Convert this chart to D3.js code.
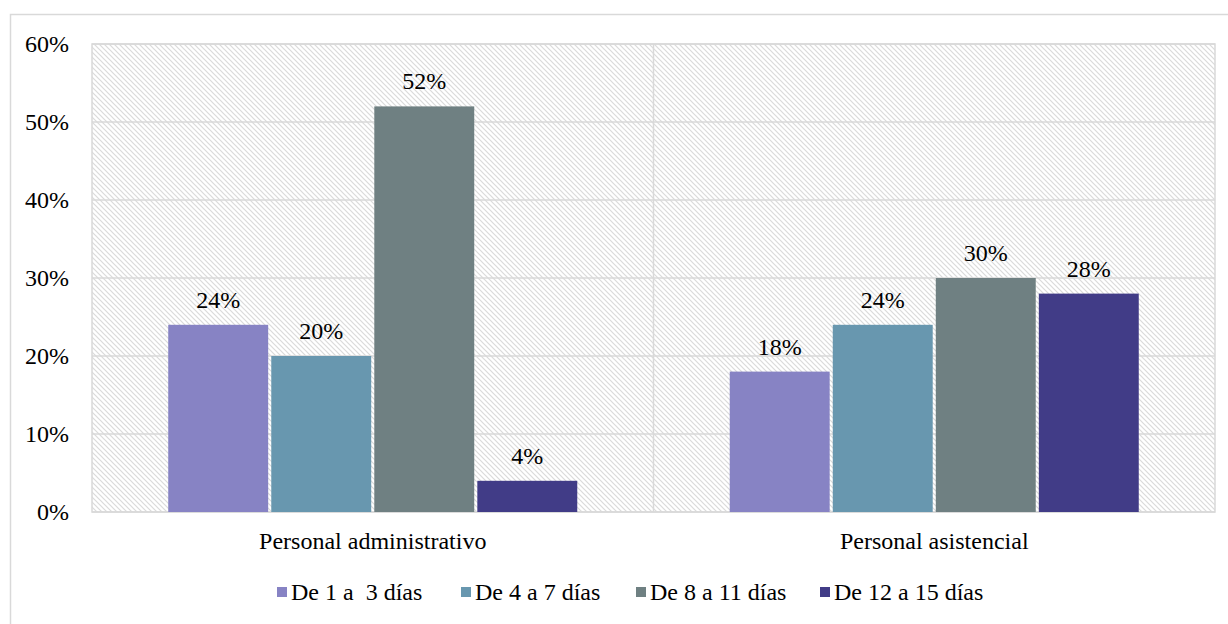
<!DOCTYPE html>
<html>
<head>
<meta charset="utf-8">
<script src="https://cdn.jsdelivr.net/npm/d3@7"></script>
<style>
  body { margin: 0; background: #fff; }
  svg text { font-family: "Liberation Serif", "Times New Roman", serif; fill: #000; white-space: pre; }
</style>
</head>
<body>
<div class="svg-container"></div>
<script>
var width = 1228;
var height = 624;

// data
var categories = ["Personal administrativo", "Personal asistencial"];
var series = ["De 1 a  3 días", "De 4 a 7 días", "De 8 a 11 días", "De 12 a 15 días"];
var admin = [0.24, 0.20, 0.52, 0.04];
var asistencial = [0.18, 0.24, 0.30, 0.28];
var yTicks = [0, 0.1, 0.2, 0.3, 0.4, 0.5, 0.6];
var colors = ["#8783c4", "#6897af", "#6f8082", "#413c87"];

var values = [admin, asistencial];

var plot = { left: 92, right: 1215, top: 44, bottom: 512 };
var fontSize = 24;

var svg = d3.select(".svg-container")
  .append("svg")
  .attr("width", width)
  .attr("height", height);

// hatch pattern for the plot background
var defs = svg.append("defs");
var pat = defs.append("pattern")
  .attr("id", "hatch")
  .attr("patternUnits", "userSpaceOnUse")
  .attr("width", 5)
  .attr("height", 5);
pat.append("rect").attr("width", 5).attr("height", 5).attr("fill", "#fff");
pat.append("path")
  .attr("d", "M-1,-1 L6,6 M-1,4 L1,6 M4,-1 L6,1")
  .attr("stroke", "#dadada")
  .attr("stroke-width", 1.2);

// outer chart border
svg.append("rect")
  .attr("x", 10.5).attr("y", 14.5)
  .attr("width", width).attr("height", height)
  .attr("fill", "none")
  .attr("stroke", "#d9d9d9")
  .attr("stroke-width", 1.5);

// scales
var y = d3.scaleLinear()
  .domain([0, 0.6])
  .range([plot.bottom, plot.top]);

var x0 = d3.scaleBand()
  .domain(categories)
  .range([plot.left, plot.right])
  .padding(0);

var x1 = d3.scaleBand()
  .domain(series)
  .range([0, x0.bandwidth()])
  .paddingInner(0.03)
  .paddingOuter(0.74);

// plot area background
svg.append("rect")
  .attr("x", plot.left).attr("y", plot.top)
  .attr("width", plot.right - plot.left)
  .attr("height", plot.bottom - plot.top)
  .attr("fill", "url(#hatch)")
  .attr("stroke", "#d9d9d9")
  .attr("stroke-width", 1.5);

// horizontal gridlines
svg.append("g")
  .selectAll("line")
  .data(yTicks)
  .enter().append("line")
  .attr("x1", plot.left).attr("x2", plot.right)
  .attr("y1", function(d) { return y(d); })
  .attr("y2", function(d) { return y(d); })
  .attr("stroke", "#d9d9d9")
  .attr("stroke-width", 1.5);

// category separator
svg.append("line")
  .attr("x1", x0(categories[1])).attr("x2", x0(categories[1]))
  .attr("y1", plot.top).attr("y2", plot.bottom)
  .attr("stroke", "#d9d9d9")
  .attr("stroke-width", 1.5);

// y axis labels
var yAxis = d3.axisLeft(y)
  .tickValues(yTicks)
  .tickFormat(d3.format(".0%"))
  .tickSize(0)
  .tickPadding(23);
var ya = svg.append("g")
  .attr("transform", "translate(" + plot.left + ",0)")
  .call(yAxis);
ya.select(".domain").remove();
ya.attr("font-family", null).attr("font-size", fontSize);
ya.selectAll("text").attr("fill", "#000");

// bars
var groups = svg.append("g")
  .selectAll("g")
  .data(categories)
  .enter().append("g")
  .attr("transform", function(d) { return "translate(" + x0(d) + ",0)"; });

groups.selectAll("rect")
  .data(function(d, i) {
    return series.map(function(s, j) { return { key: s, value: values[i][j], idx: j }; });
  })
  .enter().append("rect")
  .attr("x", function(d) { return x1(d.key); })
  .attr("y", function(d) { return y(d.value); })
  .attr("width", x1.bandwidth())
  .attr("height", function(d) { return y(0) - y(d.value); })
  .attr("fill", function(d) { return colors[d.idx]; });

groups.selectAll("text")
  .data(function(d, i) {
    return series.map(function(s, j) { return { key: s, value: values[i][j] }; });
  })
  .enter().append("text")
  .attr("x", function(d) { return x1(d.key) + x1.bandwidth() / 2; })
  .attr("y", function(d) { return y(d.value) - 17; })
  .attr("text-anchor", "middle")
  .attr("font-size", fontSize)
  .text(function(d) { return d3.format(".0%")(d.value); });

// category labels
var xAxis = d3.axisBottom(x0).tickSize(0).tickPadding(20);
var xa = svg.append("g")
  .attr("transform", "translate(0," + plot.bottom + ")")
  .call(xAxis);
xa.select(".domain").remove();
xa.attr("font-family", null).attr("font-size", fontSize);
xa.selectAll("text").attr("fill", "#000");

// legend
var legendX = [277, 461, 636, 820];
var legend = svg.append("g")
  .selectAll("g")
  .data(series)
  .enter().append("g")
  .attr("transform", function(d, i) { return "translate(" + legendX[i] + ",592)"; });

legend.append("rect")
  .attr("x", 0).attr("y", -5)
  .attr("width", 10).attr("height", 10)
  .attr("fill", function(d, i) { return colors[i]; });

legend.append("text")
  .attr("x", 14)
  .attr("y", 8)
  .attr("font-size", fontSize)
  .text(function(d) { return d; });
</script>
</body>
</html>
